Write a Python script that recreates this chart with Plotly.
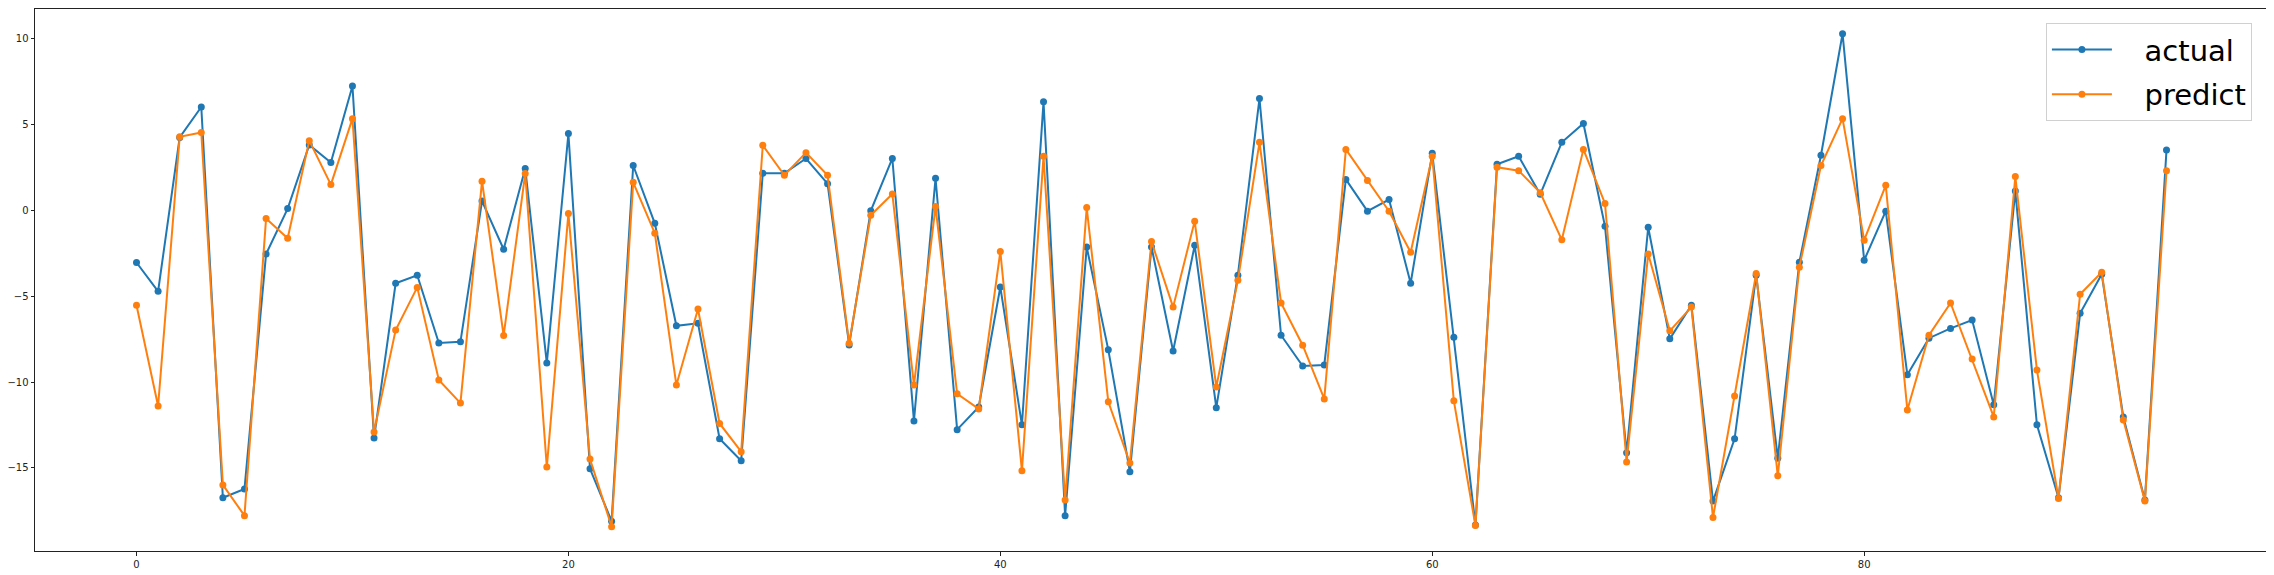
"""Actual vs predicted series, line + marker chart."""
import plotly.graph_objects as go

BLUE = "#1f77b4"
ORANGE = "#ff7f0e"

# ── Data ────────────────────────────────────────────────────────────────
index = list(range(95))

actual = [
    -3.03, -4.71, 4.26, 6.03, -16.74, -16.23, -2.54, 0.11, 3.82, 2.79,
    7.25, -13.26, -4.24, -3.77, -7.72, -7.65, 0.55, -2.26, 2.45, -8.89,
    4.48, -15.05, -18.10, 2.62, -0.75, -6.72, -6.57, -13.30, -14.58, 2.17,
    2.17, 3.03, 1.56, -7.83, -0.02, 3.03, -12.26, 1.88, -12.77, -11.45,
    -4.46, -12.49, 6.33, -17.78, -2.13, -8.12, -15.22, -2.13, -8.19, -2.03,
    -11.49, -3.77, 6.52, -7.27, -9.06, -9.00, 1.81, -0.04, 0.64, -4.24,
    3.33, -7.38, -18.32, 2.69, 3.16, 0.94, 3.97, 5.07, -0.92, -14.12,
    -0.98, -7.48, -5.52, -16.93, -13.30, -3.77, -14.43, -3.01, 3.22, 10.30,
    -2.90, -0.04, -9.57, -7.44, -6.87, -6.38, -11.32, 1.13, -12.49, -16.74,
    -5.99, -3.71, -12.03, -16.87, 3.52,
]

predict = [
    -5.52, -11.39, 4.29, 4.54, -15.99, -17.78, -0.47, -1.62, 4.07, 1.51,
    5.35, -12.90, -6.97, -4.48, -9.87, -11.22, 1.71, -7.29, 2.15, -14.95,
    -0.17, -14.48, -18.42, 1.64, -1.32, -10.17, -5.74, -12.41, -14.05, 3.80,
    2.05, 3.37, 2.05, -7.74, -0.28, 0.96, -10.17, 0.23, -10.68, -11.56,
    -2.39, -15.16, 3.16, -16.87, 0.17, -11.15, -14.71, -1.81, -5.63, -0.62,
    -10.28, -4.07, 3.97, -5.39, -7.85, -10.98, 3.56, 1.75, -0.04, -2.43,
    3.16, -11.09, -18.36, 2.52, 2.32, 1.04, -1.71, 3.56, 0.41, -14.65,
    -2.54, -7.01, -5.63, -17.89, -10.81, -3.67, -15.46, -3.30, 2.62, 5.35,
    -1.73, 1.47, -11.62, -7.27, -5.39, -8.66, -12.03, 1.98, -9.30, -16.78,
    -4.88, -3.60, -12.20, -16.93, 2.32,
]

x_ticks = [0, 20, 40, 60, 80]
y_ticks = [-15, -10, -5, 0, 5, 10]

# ── Figure ───────────────────────────────────────────────────────────────
# the page body adds an 8px offset, so the figure is 8px smaller than the window
PAD = "\u00a0\u00a0\u00a0"

fig = go.Figure()
for name, ys, color in (("actual", actual, BLUE), ("predict", predict, ORANGE)):
    fig.add_trace(go.Scatter(
        x=index, y=ys,
        mode="lines+markers",
        name=PAD + name,
        legendgroup=name,
        line=dict(color=color, width=2),
        marker=dict(color=color, size=7),
    ))

axis_style = dict(
    showgrid=False,
    zeroline=False,
    showline=True,
    linecolor="#222222",
    linewidth=1,
    mirror=True,
    ticks="outside",
    ticklen=3.5,
    tickwidth=1,
    tickcolor="#222222",
    tickfont=dict(family="DejaVu Sans", size=10, color="#222222"),
    automargin=False,
)

fig.update_layout(
    width=2266,
    height=567,
    paper_bgcolor="white",
    plot_bgcolor="white",
    margin=dict(l=27, r=6, t=1, b=24),
    xaxis=dict(range=[-4.7, 98.7], tickvals=x_ticks, **axis_style),
    yaxis=dict(range=[-19.84, 11.74], tickvals=y_ticks, **axis_style),
    legend=dict(
        x=0.9928, y=0.974,
        xanchor="right", yanchor="top",
        font=dict(family="DejaVu Sans", size=29, color="black"),
        bgcolor="rgba(255,255,255,0.8)",
        bordercolor="#d0d0d0",
        borderwidth=1,
        itemwidth=60,
        tracegroupgap=4,
    ),
    font=dict(family="DejaVu Sans"),
)

fig.write_html("out.html")
